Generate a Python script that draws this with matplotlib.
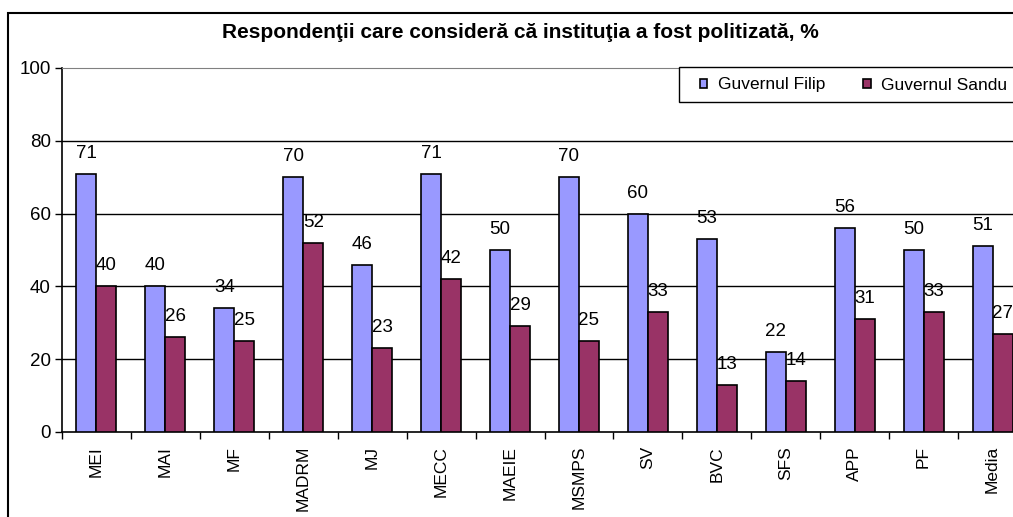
import numpy as np
import matplotlib
matplotlib.use("Agg")
import matplotlib.pyplot as plt
from matplotlib.patches import Rectangle

plt.rcParams['font.family'] = ['Liberation Sans', 'DejaVu Sans']

categorii = ['MEI', 'MAI', 'MF', 'MADRM', 'MJ', 'MECC', 'MAEIE', 'MSMPS',
             'SV', 'BVC', 'SFS', 'APP', 'PF', 'Media']
filip = [71, 40, 34, 70, 46, 71, 50, 70, 60, 53, 22, 56, 50, 51]
sandu = [40, 26, 25, 52, 23, 42, 29, 25, 33, 13, 14, 31, 33, 27]
serii = ['Guvernul Filip', 'Guvernul Sandu']
culori = ['#9999FF', '#993366']

W, H = 1013, 517
fig = plt.figure(figsize=(W / 100, H / 100), dpi=100)

# zona graficului iese putin in afara imaginii in dreapta
ax = fig.add_axes([62 / W, 85 / H, 965 / W, 364 / H])

x = np.arange(len(categorii))
lat = 0.29
b1 = ax.bar(x - lat / 2, filip, lat, color=culori[0], edgecolor='black', linewidth=1.2,
            label=serii[0], zorder=3)
b2 = ax.bar(x + lat / 2, sandu, lat, color=culori[1], edgecolor='black', linewidth=1.2,
            label=serii[1], zorder=3)

for bars, vals in [(b1, filip), (b2, sandu)]:
    for r, v in zip(bars, vals):
        ax.annotate(str(v), (r.get_x() + r.get_width() / 2, v), xytext=(0, 11.5),
                    textcoords='offset points', ha='center', va='baseline',
                    fontsize=13.5, zorder=4)

ax.set_xlim(-0.5, len(categorii) - 0.5)
ax.set_ylim(0, 100)
ax.set_yticks(np.arange(0, 101, 20))
ax.tick_params(axis='y', direction='out', length=5, width=1, labelsize=13.5, pad=3)
ax.set_xticks(x)
ax.set_xticklabels(categorii, rotation=90, fontsize=12.5, va='top')
ax.tick_params(axis='x', which='major', length=0, pad=10)
ax.set_xticks(np.arange(-0.5, len(categorii)), minor=True)
ax.tick_params(axis='x', which='minor', direction='out', length=5, width=1)

for yv in [20, 40, 60, 80]:
    ax.axhline(yv, color='black', linewidth=1, zorder=1)

ax.spines['top'].set_color('#808080')
ax.spines['right'].set_visible(False)
for s in ['left', 'bottom']:
    ax.spines[s].set_linewidth(1.2)
    ax.spines[s].set_color('black')

fig.text(520 / W, 1 - 32 / H,
         'Respondenţii care consideră că instituţia a fost politizată, %',
         ha='center', va='center', fontsize=15, fontweight='bold')

# chenarul exterior
fig.patches.append(Rectangle((8 / W, -0.1), 1.2, (H - 13) / H + 0.1, transform=fig.transFigure,
                             fill=False, edgecolor='black', linewidth=1.5, zorder=1))

# chenarul legendei
fig.patches.append(Rectangle((679 / W, (H - 102) / H), 0.5, 35 / H, transform=fig.transFigure,
                             facecolor='white', edgecolor='black', linewidth=1, zorder=2))
fig.legend(handles=[b1, b2], labels=serii, ncol=2, frameon=False, fontsize=12.5,
           loc='center left', bbox_to_anchor=(700 / W, 1 - 85 / H), borderpad=0,
           borderaxespad=0, handlelength=0.42, handleheight=0.42, handletextpad=0.6,
           columnspacing=2.2)

fig.savefig('out.png', dpi=100)
